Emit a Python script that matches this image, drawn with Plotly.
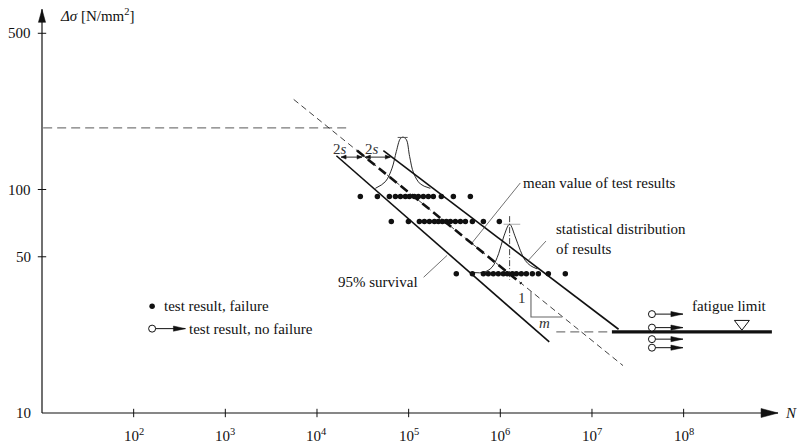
import numpy as np
import plotly.graph_objects as go

# ---------------- data ----------------
# test results (failure), three stress levels [N/mm^2]
row_stress = [93, 72, 42]
row1_N = [29700, 45600, 61600, 71700, 81300, 92100, 101800, 115400, 127600,
          144600, 164000, 185900, 227300, 307400, 471000]
row2_N = [64700, 99400, 130900, 148500, 168400, 191000, 211000, 233300, 257800,
          285300, 323400, 366700, 416000, 495800, 653600, 975800]
row3_N = [331000, 495800, 653600, 740000, 839000, 951000, 1079000, 1193000,
          1353000, 1496000, 1695000, 1923000, 2235000, 2600000, 3342000, 5118000]

# S-N lines (endpoints)
mean_N = [5570, 2.18e7]
mean_S = [253, 16.3]
mean_bold_N = [27350, 1.69e6]
mean_bold_S = [149.3, 38.0]
lower_N = [16280, 3.42e6]        # 95% survival
lower_S = [141.6, 20.8]
upper_N = [52980, 1.95e7]
upper_S = [149.1, 23.7]

fatigue_S = 23.05
fatigue_N = [1.65e7, 9.18e8]
fatigue_dash_N = [4.08e6, 1.65e7]
upper_dash_S = 188.7
upper_dash_N = [10.3, 23100]

# run-outs (no failure)
runout_N = 4.51e7
runout_tip_N = 9.82e7
runout_S = [27.7, 24.1, 21.4, 19.6]
fatigue_mark_N = 4.32e8
fatigue_mark_S = 25.1

# distribution curves
bell1_N = [43350, 55700, 65900, 73400, 81200, 86900, 94400, 102500, 113400, 134200, 172400]
bell1_S = [101.2, 108.4, 124.6, 148.0, 168.9, 171.5, 167.1, 140.5, 118.3, 105.9, 101.2]
bar1_N = [75900, 97500]
bar1_S = 171.0
bell2_N = [511500, 657500, 812100, 958300, 1.0864e6, 1.2632e6, 1.4572e6, 1.6525e6,
           1.8735e6, 2.1246e6, 2.5318e6]
bell2_S = [42.5, 42.6, 44.9, 51.6, 61.3, 69.9, 61.3, 53.4, 48.1, 45.7, 44.1]
bar2_N = [1.086e6, 1.65e6]
bar2_S = 69.9
median_N = 1.263e6
median_S = [76.0, 39.5]

# leader lines
lead_mean_N, lead_mean_S = [1.652e6, 491200], [107.0, 57.7]
lead_stat_N, lead_stat_S = [3.146e6, 1.995e6], [58.8, 47.9]
lead_surv_N, lead_surv_S = [145700, 262300], [40.5, 50.7]

# slope triangle
slope_N = [2.16e6, 2.16e6, 4.71e6]
slope_S = [35.1, 26.9, 26.9]

# 2s dimension arrows
twos_S = 139.6
twos_left_N = [18320, 31030]
twos_right_N = [33720, 63150]

# legend symbols
leg_N = 159
leg_fail_S = 30.0
leg_run_S = 23.85
leg_tip_N = 367

# ticks
x_tick_vals = [1e2, 1e3, 1e4, 1e5, 1e6, 1e7, 1e8]
x_tick_text = ["10<sup>%d</sup>" % k for k in range(2, 9)]
y_tick_vals = [10, 50, 100, 500]
y_tick_text = ["10", "50", "100", "500"]

# ---------------- layout constants ----------------
W, H = 797, 448
XR = [0.93457, 9.0513]
YR = [0.97315, 2.8166]
ML, MR, MT, MB = 35.7, 17, 7, 29
PLOT_W, PLOT_H = W - ML - MR, H - MT - MB
PX_X = PLOT_W / (XR[1] - XR[0])
PX_Y = PLOT_H / (YR[1] - YR[0])
X_END = 9.03          # log10 of x-axis arrow tip
Y_END = 2.806         # log10 of y-axis arrow tip
XLAB_Y = -27.0 / PLOT_H   # paper y of x tick label bottoms
YLAB_X = -3.4 / PLOT_W    # paper x of y tick label right edges
FONT = "Liberation Serif, Times New Roman, Times, serif"
FS = 15
INK = "#111111"
GRAY = "#7a7a7a"


def head(tip_N, tip_S, direction, length, half):
    lx, ly = np.log10(tip_N), np.log10(tip_S)
    if direction == "right":
        bx = lx - length / PX_X
        pts = [(lx, ly), (bx, ly + half / PX_Y), (bx, ly - half / PX_Y)]
    elif direction == "left":
        bx = lx + length / PX_X
        pts = [(lx, ly), (bx, ly + half / PX_Y), (bx, ly - half / PX_Y)]
    else:  # up
        by = ly - length / PX_Y
        pts = [(lx, ly), (lx - half / PX_X, by), (lx + half / PX_X, by)]
    pts.append(pts[0])
    return [10 ** p[0] for p in pts], [10 ** p[1] for p in pts]


def heads(items):
    xs, ys = [], []
    for it in items:
        a, b = head(*it)
        xs += a + [None]
        ys += b + [None]
    return xs, ys


fig = go.Figure()


def line(x, y, color=INK, width=1.5, dash="solid", shape="linear"):
    fig.add_trace(go.Scatter(x=x, y=y, mode="lines", hoverinfo="skip",
                             line=dict(color=color, width=width, dash=dash, shape=shape)))


# axes
line([10, 10 ** X_END], [10, 10], width=1.2)
line([10, 10], [10, 10 ** Y_END], width=1.2)

# dashed references
line(upper_dash_N, [upper_dash_S] * 2, color=GRAY, width=1.3, dash="9px,5px")
line(fatigue_dash_N, [fatigue_S] * 2, color=GRAY, width=1.3, dash="9px,5px")
line(mean_N, mean_S, width=0.8, dash="6px,4px")
line(mean_bold_N, mean_bold_S, width=2.6, dash="9px,5px")

# S-N band
line(lower_N, lower_S, width=1.6)
line(upper_N, upper_S, width=1.6)
line(fatigue_N, [fatigue_S] * 2, width=3.2)

# distributions
line(bell1_N, bell1_S, width=0.9, shape="spline")
line(bell2_N, bell2_S, width=0.9, shape="spline")
line(bar1_N, [bar1_S] * 2, color="#555555", width=1)
line(bar2_N, [bar2_S] * 2, color="#999999", width=0.8)
line([median_N] * 2, median_S, width=0.8, dash="6px,2px,1px,2px")

# leaders
for nx, sy in [(lead_mean_N, lead_mean_S), (lead_stat_N, lead_stat_S), (lead_surv_N, lead_surv_S)]:
    line(nx, sy, color="#333333", width=0.7)

# slope triangle
line(slope_N, slope_S, color="#666666", width=1.1)

# 2s arrows
line(twos_left_N, [twos_S] * 2, width=0.9)
line(twos_right_N, [twos_S] * 2, width=0.9)

# run-out shafts
shaft_x, shaft_y = [], []
for s in runout_S:
    shaft_x += [runout_N, runout_tip_N, None]
    shaft_y += [s, s, None]
shaft_x += [leg_N, leg_tip_N, None]
shaft_y += [leg_run_S, leg_run_S, None]
line(shaft_x, shaft_y, width=1.0)

# arrow heads
items = [(10 ** X_END, 10, "right", 17, 4.5), (10, 10 ** Y_END, "up", 13, 3.6)]
items += [(runout_tip_N, s, "right", 12, 2.6) for s in runout_S]
items += [(leg_tip_N, leg_run_S, "right", 12, 2.6)]
items += [(twos_left_N[0], twos_S, "left", 5, 2.0), (twos_left_N[1], twos_S, "right", 5, 2.0),
          (twos_right_N[0], twos_S, "left", 5, 2.0), (twos_right_N[1], twos_S, "right", 5, 2.0)]
hx, hy = heads(items)
fig.add_trace(go.Scatter(x=hx, y=hy, mode="lines", fill="toself", fillcolor=INK,
                         line=dict(color=INK, width=0.5), hoverinfo="skip"))

# test results
for s, ns in zip(row_stress, [row1_N, row2_N, row3_N]):
    fig.add_trace(go.Scatter(x=ns, y=[s] * len(ns), mode="markers", hoverinfo="skip",
                             marker=dict(color=INK, size=5.5, line=dict(width=0))))
fig.add_trace(go.Scatter(x=[leg_N], y=[leg_fail_S], mode="markers", hoverinfo="skip",
                         marker=dict(color=INK, size=5.5, line=dict(width=0))))
# run-out circles
fig.add_trace(go.Scatter(x=[runout_N] * len(runout_S) + [leg_N], y=runout_S + [leg_run_S],
                         mode="markers", hoverinfo="skip",
                         marker=dict(symbol="circle", color="white", size=7,
                                     line=dict(color=INK, width=1))))
# fatigue limit symbol
fig.add_trace(go.Scatter(x=[fatigue_mark_N], y=[fatigue_mark_S], mode="markers", hoverinfo="skip",
                         marker=dict(symbol="triangle-down-open", size=13, color=INK,
                                     line=dict(width=1))))
# tick marks crossing axes
fig.add_trace(go.Scatter(x=x_tick_vals, y=[10] * len(x_tick_vals), mode="markers", cliponaxis=False,
                         hoverinfo="skip",
                         marker=dict(symbol="line-ns", size=6, line=dict(color=INK, width=1))))
fig.add_trace(go.Scatter(x=[10] * 3, y=y_tick_vals[1:], mode="markers", cliponaxis=False,
                         hoverinfo="skip",
                         marker=dict(symbol="line-ew", size=6, line=dict(color=INK, width=1))))


def text(N, S, t, xanchor="left", size=FS, color=INK):
    fig.add_annotation(x=np.log10(N), y=np.log10(S), xref="x", yref="y", text=t,
                       showarrow=False, xanchor=xanchor, yanchor="middle", align="left",
                       font=dict(family=FONT, size=size, color=color))


text(1.69e6, 107, "mean value of test results")
text(3.88e6, 59.8, "statistical distribution<br>of results")
text(134000, 38.4, "95% survival", xanchor="right")
text(3.2e8, 30.2, "fatigue limit", xanchor="center")
text(1.995e6, 32.8, "1", xanchor="right", color="#333333")
text(3.02e6, 25.3, "<i>m</i>", xanchor="center", color="#333333")
text(17680, 151.8, "2<i>s</i>", xanchor="center", color="#333333")
text(39900, 151.8, "2<i>s</i>", xanchor="center", color="#333333")
text(204.6, 30.2, "test result, failure")
text(383, 23.85, "test result, no failure")
text(15.1, 604, "<i>Δσ</i> [N/mm<sup>2</sup>]")
fig.add_annotation(x=1.0148, y=(1 - YR[0]) / (YR[1] - YR[0]), xref="paper", yref="paper",
                   text="<i>N</i>", showarrow=False, xanchor="center", yanchor="middle",
                   font=dict(family=FONT, size=FS, color=INK))

# tick labels
for v, t in zip(x_tick_vals, x_tick_text):
    fig.add_annotation(x=np.log10(v), y=XLAB_Y, xref="x", yref="paper", text=t,
                       showarrow=False, xanchor="center", yanchor="bottom",
                       font=dict(family=FONT, size=FS, color=INK))
for v, t in zip(y_tick_vals, y_tick_text):
    fig.add_annotation(x=YLAB_X, y=np.log10(v), xref="paper", yref="y", text=t,
                       showarrow=False, xanchor="right", yanchor="middle",
                       font=dict(family=FONT, size=FS, color=INK))

fig.update_layout(
    width=W, height=H, showlegend=False,
    margin=dict(l=ML, r=MR, t=MT, b=MB, pad=0, autoexpand=False),
    paper_bgcolor="white", plot_bgcolor="white",
    font=dict(family=FONT, size=FS, color=INK),
    xaxis=dict(type="log", range=XR, showgrid=False, zeroline=False, showline=False,
               showticklabels=False, ticks="", automargin=False),
    yaxis=dict(type="log", range=YR, showgrid=False, zeroline=False, showline=False,
               showticklabels=False, ticks="", automargin=False),
)

fig.write_html("out.html", config={"displayModeBar": False},
               post_script="document.body.style.margin='0';")
